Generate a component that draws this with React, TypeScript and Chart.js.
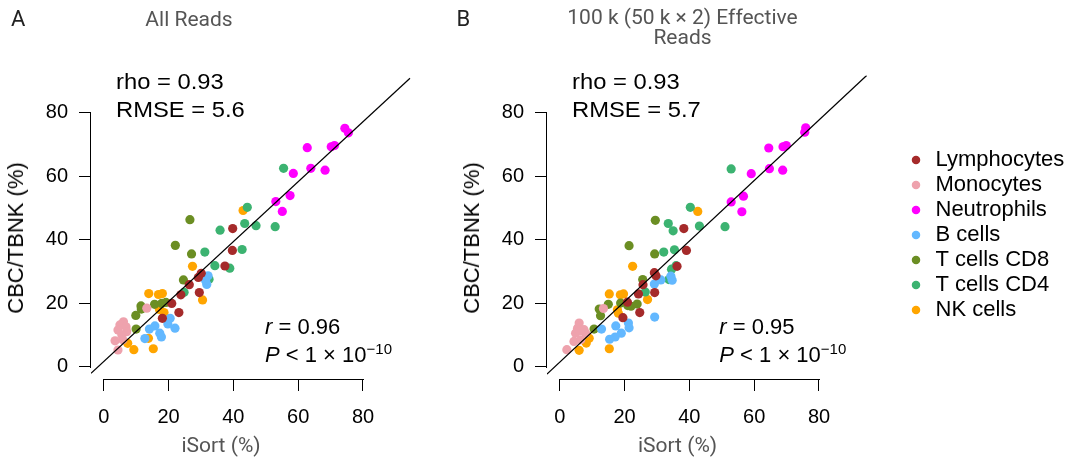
import React, { useEffect, useRef } from "react";
import { Chart, registerables } from "chart.js";

Chart.register(...registerables);

type Pt = [number, number];

// ---------- data ----------
const categories = ["Lymphocytes", "Monocytes", "Neutrophils", "B cells", "T cells CD8", "T cells CD4", "NK cells"];
const categoryColors = ["#A52A2A", "#EEA2AD", "#FF00FF", "#63B8FF", "#6B8E23", "#3CB371", "#FFA500"];
const tickValues = [0, 20, 40, 60, 80];

// Panel A: All Reads  (iSort %, CBC/TBNK %)
const lymphocytesA: Pt[] = [[39.8, 43.5], [39.7, 36.6], [37.4, 31.7], [30.1, 29.4], [29.2, 28.1], [26.4, 25.8], [23.8, 22.6], [29.5, 23.3], [21.0, 19.9], [23.2, 17.0], [18.1, 15.2]];
const monocytesA: Pt[] = [[13.3, 18.4], [6.1, 14.1], [5.0, 13.1], [6.9, 12.5], [4.4, 11.5], [7.1, 11.0], [5.6, 9.9], [3.5, 8.1], [5.9, 8.4], [4.4, 5.2]];
const neutrophilsA: Pt[] = [[74.4, 75.1], [75.5, 73.7], [62.8, 69.0], [70.2, 69.3], [71.2, 69.7], [63.9, 62.5], [68.3, 61.9], [58.5, 60.9], [53.1, 52.0], [57.5, 53.9], [55.1, 48.9]];
const bCellsA: Pt[] = [[32.2, 28.6], [31.8, 25.9], [31.4, 27.2], [20.5, 15.2], [22.0, 12.1], [19.8, 13.4], [15.8, 12.8], [14.1, 11.8], [17.3, 10.5], [17.8, 9.3], [12.7, 8.8]];
const cd8A: Pt[] = [[26.6, 46.3], [22.1, 38.2], [27.1, 35.5], [24.6, 27.3], [15.7, 19.6], [17.9, 19.9], [19.2, 20.2], [11.5, 19.1], [11.6, 18.1], [9.9, 16.1], [10.0, 11.8]];
const cd4A: Pt[] = [[55.5, 62.5], [44.3, 50.2], [43.5, 45.1], [47.0, 44.4], [52.9, 44.1], [35.9, 43.0], [42.7, 36.9], [31.2, 36.1], [34.3, 31.8], [38.9, 31.0], [32.5, 27.5], [24.8, 23.4]];
const nkA: Pt[] = [[43.0, 49.2], [27.4, 31.6], [13.9, 23.0], [16.9, 22.7], [18.1, 23.0], [30.5, 21.0], [17.2, 18.0], [18.6, 17.0], [13.8, 8.9], [7.4, 7.3], [9.3, 5.3], [15.3, 5.6]];

// Panel B: 100 k (50 k x 2) effective reads
const lymphocytesB: Pt[] = [[38.3, 43.5], [39.1, 36.6], [36.2, 31.6], [29.2, 29.6], [29.7, 28.6], [25.7, 25.8], [24.3, 22.9], [29.3, 23.3], [20.9, 20.3], [24.7, 17.0], [19.5, 15.4]];
const monocytesB: Pt[] = [[13.5, 18.3], [6.0, 13.7], [5.5, 12.1], [7.5, 11.6], [4.9, 10.5], [8.0, 10.5], [4.4, 7.9], [6.5, 8.4], [2.2, 5.3], [6.3, 11.3]];
const neutrophilsB: Pt[] = [[75.9, 75.3], [75.6, 73.9], [64.5, 68.9], [68.9, 69.3], [69.9, 69.7], [64.7, 62.4], [68.8, 61.9], [59.1, 60.8], [52.9, 51.9], [56.7, 53.7], [56.2, 48.8]];
const bCellsB: Pt[] = [[34.3, 28.5], [34.7, 27.2], [31.2, 27.3], [29.2, 26.0], [29.3, 15.6], [17.3, 12.8], [21.2, 13.7], [21.4, 12.2], [19.0, 10.5], [17.1, 9.3], [15.4, 8.6], [12.9, 11.8]];
const cd8B: Pt[] = [[29.5, 46.1], [21.4, 38.1], [29.3, 35.5], [25.6, 27.4], [12.2, 18.1], [12.6, 16.0], [15.0, 19.6], [10.6, 11.8], [18.8, 20.0], [22.0, 19.0], [23.9, 19.7], [21.0, 19.2]];
const cd4B: Pt[] = [[52.9, 62.3], [40.3, 50.2], [33.5, 45.1], [35.0, 42.8], [43.1, 44.3], [51.0, 44.1], [35.4, 36.8], [32.1, 36.1], [35.9, 31.8], [34.5, 30.7], [33.7, 27.4], [26.4, 23.5]];
const nkB: Pt[] = [[42.6, 48.9], [22.5, 31.6], [15.3, 22.9], [18.7, 22.6], [19.7, 22.9], [27.1, 21.1], [17.8, 17.9], [18.1, 16.8], [9.1, 8.9], [8.2, 7.4], [6.0, 5.1], [15.3, 5.6]];

const seriesA = [lymphocytesA, monocytesA, neutrophilsA, bCellsA, cd8A, cd4A, nkA];
const seriesB = [lymphocytesB, monocytesB, neutrophilsB, bCellsB, cd8B, cd4B, nkB];

// fitted lines (slope, intercept, x extent inside the plot region)
const fitA = { slope: 0.9455, intercept: 1.55, xFrom: -3.92, xTo: 94.5 };
const fitB = { slope: 0.955, intercept: 1.33, xFrom: -3.92, xTo: 94.7 };

const statsA = { rho: "0.93", rmse: "5.6", r: "0.96" };
const statsB = { rho: "0.93", rmse: "5.7", r: "0.95" };

// axis ranges (plot region, in data units)
const xRange = { min: -3.92, max: 106.38 };
const yRange = { min: -3.94, max: 91.77 };

// ---------- styling ----------
const SANS = "'Liberation Sans', Arial, Helvetica, sans-serif";
const ROBOTO = "Roboto, 'Noto Sans', sans-serif";

const rAxesPlugin = {
  id: "rAxes",
  afterDraw(chart: any) {
    const { ctx, chartArea, scales } = chart;
    const x = scales.x;
    const y = scales.y;
    const lo = tickValues[0];
    const hi = tickValues[tickValues.length - 1];
    ctx.save();
    ctx.strokeStyle = "#000";
    ctx.lineWidth = 1;
    ctx.beginPath();
    const by = Math.round(chartArea.bottom) + 0.5;
    ctx.moveTo(Math.round(x.getPixelForValue(lo)), by);
    ctx.lineTo(Math.round(x.getPixelForValue(hi)) + 1, by);
    const lx = Math.round(chartArea.left) - 0.5;
    ctx.moveTo(lx, Math.round(y.getPixelForValue(lo)) + 1);
    ctx.lineTo(lx, Math.round(y.getPixelForValue(hi)));
    ctx.stroke();
    ctx.restore();
  },
};

function Panel(props: { series: Pt[][]; fit: typeof fitA; legend: boolean; left: number; width: number; padRight: number }) {
  const ref = useRef<HTMLCanvasElement>(null);
  useEffect(() => {
    const { series, fit, legend, padRight } = props;
    const datasets: any[] = [
      {
        label: "fit",
        data: [
          { x: fit.xFrom, y: fit.intercept + fit.slope * fit.xFrom },
          { x: fit.xTo, y: fit.intercept + fit.slope * fit.xTo },
        ],
        showLine: true,
        borderColor: "#000",
        borderWidth: 1.2,
        pointRadius: 0,
        order: -1,
      },
      ...series.map((pts, i) => ({
        label: categories[i],
        data: pts.map(([x, y]) => ({ x, y })),
        backgroundColor: categoryColors[i],
        borderColor: categoryColors[i],
        borderWidth: 0,
        pointRadius: 4.6,
        pointHoverRadius: 4.6,
        pointBorderWidth: 0,
        order: 0,
      })),
    ];
    const tickFont = { family: SANS, size: 20 };
    const chart = new Chart(ref.current as HTMLCanvasElement, {
      type: "scatter",
      data: { datasets },
      options: {
        responsive: false,
        maintainAspectRatio: false,
        animation: false,
        devicePixelRatio: 1,
        layout: { padding: { left: 0, right: padRight, top: 10, bottom: 0 } },
        plugins: {
          tooltip: { enabled: false },
          // empty spacer title: reserves the band above the plot region
          title: { display: true, text: "", font: { size: 10 }, padding: { top: 0, bottom: 53.5 } },
          legend: {
            display: legend,
            position: "right",
            align: "center",
            maxWidth: 165.5,
            labels: {
              usePointStyle: true,
              pointStyle: "circle",
              boxWidth: 17,
              boxHeight: 6,
              padding: 3,
              color: "#000",
              font: { family: SANS, size: 22 },
              filter: (item: any) => item.text !== "fit",
            },
          },
        },
        scales: {
          x: {
            type: "linear",
            min: xRange.min,
            max: xRange.max,
            afterBuildTicks: (s: any) => {
              s.ticks = tickValues.map((value) => ({ value }));
            },
            afterFit: (s: any) => {
              s.height = 81;
            },
            ticks: { font: tickFont, color: "#000", padding: 14, maxRotation: 0, autoSkip: false },
            grid: { display: true, drawOnChartArea: false, drawTicks: true, tickLength: 12, color: "#000", lineWidth: 1 },
            border: { display: false },
          },
          y: {
            type: "linear",
            min: yRange.min,
            max: yRange.max,
            afterBuildTicks: (s: any) => {
              s.ticks = tickValues.map((value) => ({ value }));
            },
            afterFit: (s: any) => {
              s.width = 91;
            },
            ticks: { font: tickFont, color: "#000", padding: 11, autoSkip: false },
            grid: { display: true, drawOnChartArea: false, drawTicks: true, tickLength: 12, color: "#000", lineWidth: 1 },
            border: { display: false },
          },
        },
      } as any,
      plugins: [rAxesPlugin],
    });
    return () => chart.destroy();
  }, []);
  return (
    <canvas
      ref={ref}
      width={props.width}
      height={460}
      style={{ position: "absolute", left: props.left, top: 0, width: props.width, height: 460 }}
    />
  );
}

function Txt(props: {
  x: number;
  baseline: number;
  size: number;
  family: string;
  color?: string;
  center?: boolean;
  extra?: string;
  children: React.ReactNode;
}) {
  const { x, baseline, size, family, color = "#000", center, extra, children } = props;
  const transforms: string[] = [];
  if (center) transforms.push("translateX(-50%)");
  if (extra) transforms.push(extra);
  return (
    <div
      style={{
        position: "absolute",
        left: x,
        top: baseline - 0.845 * size,
        fontSize: size,
        lineHeight: `${size}px`,
        fontFamily: family,
        color,
        whiteSpace: "nowrap",
        transform: transforms.length ? transforms.join(" ") : undefined,
        transformOrigin: "left center",
      }}
    >
      {children}
    </div>
  );
}

function Stats(props: { stats: typeof statsA; rhoX: number; rX: number }) {
  const { stats, rhoX, rX } = props;
  return (
    <>
      <Txt x={rhoX} baseline={89.3} size={22} family={SANS} extra="scaleX(1.08)">
        rho = {stats.rho}
      </Txt>
      <Txt x={rhoX} baseline={117.3} size={22} family={SANS} extra="scaleX(1.08)">
        RMSE = {stats.rmse}
      </Txt>
      <Txt x={rX} baseline={334.5} size={22} family={SANS}>
        <i>r</i> = {stats.r}
      </Txt>
      <Txt x={rX} baseline={362.3} size={22} family={SANS}>
        <i>P</i> &lt; 1 × 10
        <span style={{ fontSize: 15, lineHeight: "15px", position: "relative", top: -7.5 }}>−10</span>
      </Txt>
    </>
  );
}

function YTitle(props: { cx: number; cy: number }) {
  return (
    <div
      style={{
        position: "absolute",
        left: props.cx,
        top: props.cy,
        transform: "translate(-50%, -50%) rotate(-90deg)",
        fontSize: 22,
        lineHeight: "22px",
        fontFamily: SANS,
        color: "#000",
        whiteSpace: "nowrap",
      }}
    >
      CBC/TBNK (%)
    </div>
  );
}

function XTitle(props: { cx: number }) {
  return (
    <div
      style={{
        position: "absolute",
        left: props.cx,
        top: 445,
        transform: "translate(-50%, -50%)",
        fontSize: 21,
        lineHeight: "21px",
        fontFamily: ROBOTO,
        color: "#555",
        whiteSpace: "nowrap",
      }}
    >
      iSort (%)
    </div>
  );
}

export default function App() {
  return (
    <div
      style={{
        position: "absolute",
        left: 0,
        top: 0,
        width: 1070,
        height: 460,
        background: "#fff",
        overflow: "hidden",
      }}
    >
      <Panel series={seriesA} fit={fitA} legend={false} left={0} width={456} padRight={7.5} />
      <Panel series={seriesB} fit={fitB} legend={true} left={456} width={614} padRight={0} />

      <Txt x={11} baseline={26.7} size={22} family={ROBOTO} color="#222">
        A
      </Txt>
      <Txt x={189} baseline={26.7} size={21} family={ROBOTO} color="#555" center>
        All Reads
      </Txt>
      <Txt x={456.5} baseline={26.7} size={22} family={ROBOTO} color="#222">
        B
      </Txt>
      <Txt x={682.5} baseline={24.7} size={21} family={ROBOTO} color="#555" center>
        100 k (50 k × 2) Effective
      </Txt>
      <Txt x={682.5} baseline={44.7} size={21} family={ROBOTO} color="#555" center>
        Reads
      </Txt>

      <Stats stats={statsA} rhoX={116} rX={265} />
      <Stats stats={statsB} rhoX={571.7} rX={719.3} />

      <YTitle cx={16} cy={238} />
      <YTitle cx={471.5} cy={238} />
      <XTitle cx={221} />
      <XTitle cx={677.5} />
    </div>
  );
}
